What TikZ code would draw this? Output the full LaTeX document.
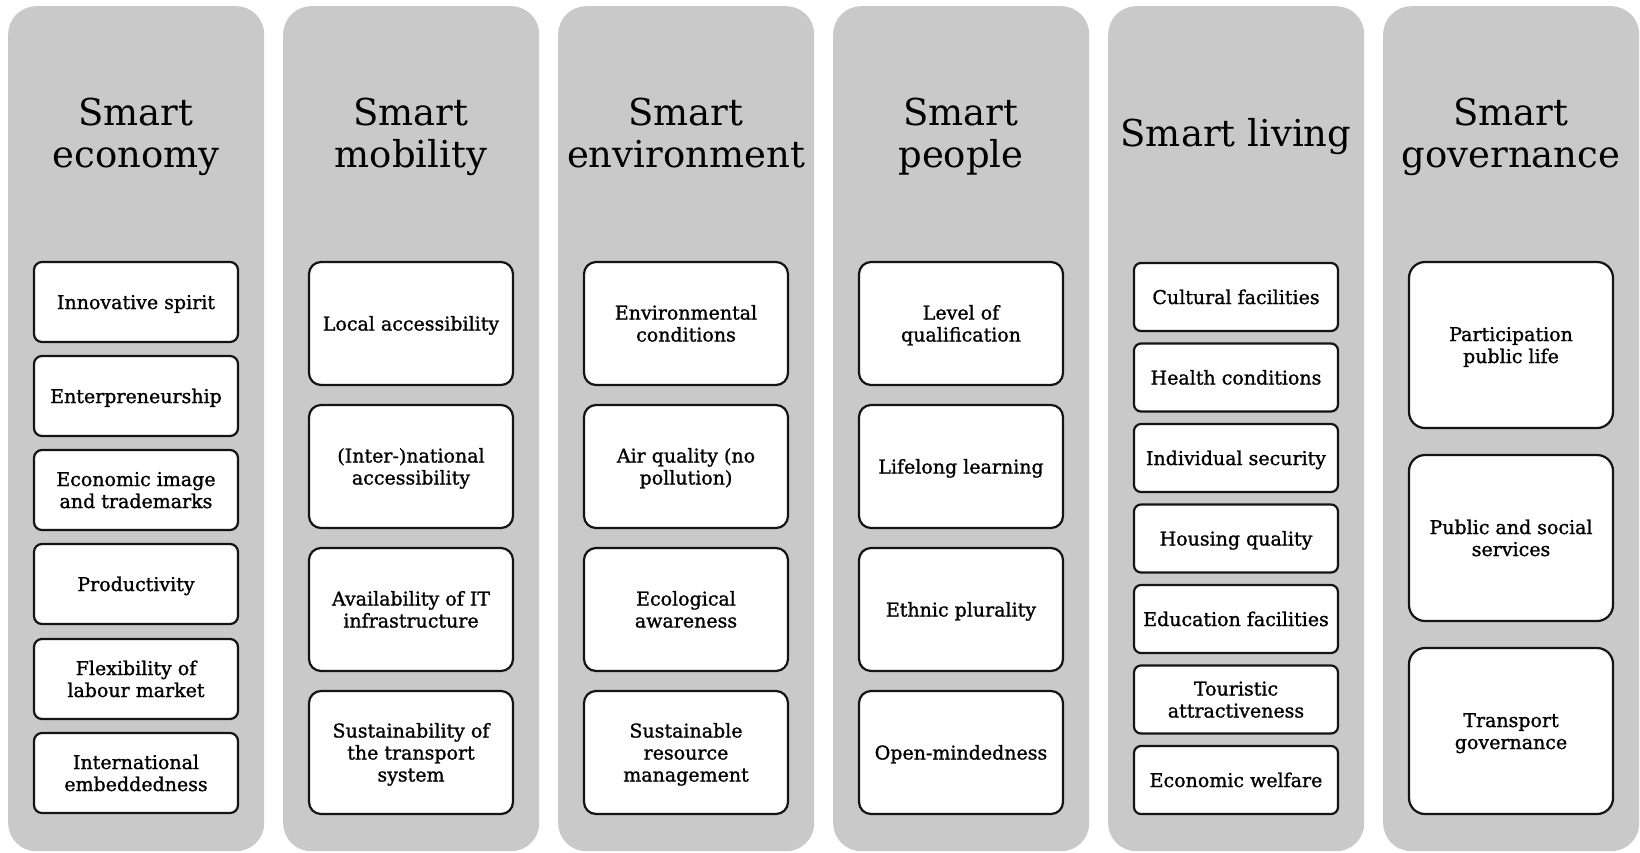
\documentclass[tikz,border=0pt]{standalone}
\usepackage{fontspec}
\setmainfont{DejaVu Serif}
\newfontfamily\itemfont{DejaVu Serif}[FakeBold=1.2]
\definecolor{panelgray}{RGB}{201,201,201}
\definecolor{boxline}{RGB}{20,20,20}
\newcommand{\tl}[1]{\begin{tabular}[b]{@{}c@{}}#1\end{tabular}}
\tikzset{
  panel/.style={fill=panelgray, draw=none, rounded corners=28pt, minimum width=256pt,
    minimum height=845pt, anchor=north west, inner sep=0pt},
  ttl/.style={font=\fontsize{37pt}{42pt}\selectfont, anchor=base, inner sep=0pt},
  item/.style={draw=boxline, line width=2.2pt, fill=white, minimum width=204pt,
    font=\itemfont\fontsize{19pt}{22pt}\selectfont, inner sep=0pt, text depth=0pt},
  l1/.style={text height=14pt}, l2/.style={text height=36pt}, l3/.style={text height=58pt},
  hA/.style={minimum height=80pt, rounded corners=8pt},
  hB/.style={minimum height=123pt, rounded corners=12pt},
  hC/.style={minimum height=68pt, rounded corners=7pt},
  hD/.style={minimum height=166pt, rounded corners=16pt},
}
\begin{document}
\begin{tikzpicture}[x=1pt,y=1pt]
\useasboundingbox (0,0) rectangle (1640,-852);
% panels
\node[panel] (p1) at (8,-6) {};
\node[panel] (p2) at (283,-6) {};
\node[panel] (p3) at (558,-6) {};
\node[panel] (p4) at (833,-6) {};
\node[panel] (p5) at (1108,-6) {};
\node[panel] (p6) at (1383,-6) {};
% titles
\node[ttl] (t1) at (136,-167) {\tl{Smart\\economy}};
\node[ttl] (t2) at (411,-167) {\tl{Smart\\mobility}};
\node[ttl] (t3) at (686,-167) {\tl{Smart\\environment}};
\node[ttl] (t4) at (961,-167) {\tl{Smart\\people}};
\node[ttl] (t5) at (1236,-146) {\tl{Smart living}};
\node[ttl] (t6) at (1511,-167) {\tl{Smart\\governance}};
% column 1
\node[item,hA,l1] (a1) at (136,-302) {\tl{Innovative spirit}};
\node[item,hA,l1] (a2) at (136,-396) {\tl{Enterpreneurship}};
\node[item,hA,l2] (a3) at (136,-490) {\tl{Economic image\\and trademarks}};
\node[item,hA,l1] (a4) at (136,-584) {\tl{Productivity}};
\node[item,hA,l2] (a5) at (136,-679) {\tl{Flexibility of\\labour market}};
\node[item,hA,l2] (a6) at (136,-773) {\tl{International\\embeddedness}};
% column 2
\node[item,hB,l1] (b1) at (411,-323.5) {\tl{Local accessibility}};
\node[item,hB,l2] (b2) at (411,-466.5) {\tl{(Inter-)national\\accessibility}};
\node[item,hB,l2] (b3) at (411,-609.5) {\tl{Availability of IT\\infrastructure}};
\node[item,hB,l3] (b4) at (411,-752.5) {\tl{Sustainability of\\the transport\\system}};
% column 3
\node[item,hB,l2] (c1) at (686,-323.5) {\tl{Environmental\\conditions}};
\node[item,hB,l2] (c2) at (686,-466.5) {\tl{Air quality (no\\pollution)}};
\node[item,hB,l2] (c3) at (686,-609.5) {\tl{Ecological\\awareness}};
\node[item,hB,l3] (c4) at (686,-752.5) {\tl{Sustainable\\resource\\management}};
% column 4
\node[item,hB,l2] (d1) at (961,-323.5) {\tl{Level of\\qualification}};
\node[item,hB,l1] (d2) at (961,-466.5) {\tl{Lifelong learning}};
\node[item,hB,l1] (d3) at (961,-609.5) {\tl{Ethnic plurality}};
\node[item,hB,l1] (d4) at (961,-752.5) {\tl{Open-mindedness}};
% column 5
\node[item,hC,l1] (e1) at (1236,-297) {\tl{Cultural facilities}};
\node[item,hC,l1] (e2) at (1236,-377.5) {\tl{Health conditions}};
\node[item,hC,l1] (e3) at (1236,-458) {\tl{Individual security}};
\node[item,hC,l1] (e4) at (1236,-538.5) {\tl{Housing quality}};
\node[item,hC,l1] (e5) at (1236,-619) {\tl{Education facilities}};
\node[item,hC,l2] (e6) at (1236,-699.5) {\tl{Touristic\\attractiveness}};
\node[item,hC,l1] (e7) at (1236,-780) {\tl{Economic welfare}};
% column 6
\node[item,hD,l2] (f1) at (1511,-345) {\tl{Participation\\public life}};
\node[item,hD,l2] (f2) at (1511,-538) {\tl{Public and social\\services}};
\node[item,hD,l2] (f3) at (1511,-731) {\tl{Transport\\governance}};
\end{tikzpicture}
\end{document}
